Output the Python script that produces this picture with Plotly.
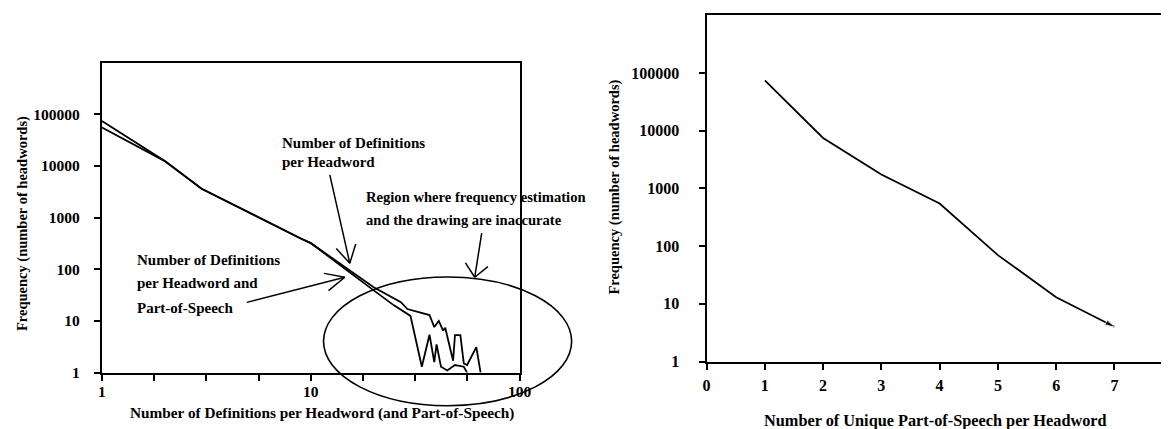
import math
import plotly.graph_objects as go

# ---------------- data ----------------
# Left chart: number of definitions per headword (log-log)
defs_x_hw = [1, 2, 3, 4, 5, 6, 7, 8, 9, 10, 15, 20, 27, 29, 37, 39, 41, 43, 44, 48, 49, 52, 54, 56, 62, 65]
defs_freq_hw = [74000, 12400, 3600, 2000, 1300, 900, 650, 500, 390, 320, 100, 45, 23, 17, 13, 7.6, 10, 6.5, 7.4, 1.7, 5.3, 5.3, 1.5, 1.4, 3.1, 1]

defs_x_hwpos = [1, 2, 3, 4, 5, 6, 7, 8, 9, 10, 15, 20, 25, 30, 34, 37, 39, 40, 42, 45, 49, 54, 56]
defs_freq_hwpos = [55500, 12400, 3600, 2000, 1300, 900, 650, 500, 390, 320, 92, 39, 20, 12.5, 1.3, 5.4, 1.6, 3.5, 1.3, 1.1, 1.4, 1.3, 1]

# Right chart: number of unique part-of-speech per headword
pos_x = [1, 2, 3, 4, 5, 6, 7]
pos_freq = [75000, 7500, 1750, 550, 70, 13, 4]

# tick labels
left_x_tickvals = [1, 1.778, 3.162, 5.623, 10, 17.78, 31.62, 56.23, 100]
left_x_ticktext = ["1", "", "", "", "10", "", "", "", "100"]
y_tickvals = [1, 10, 100, 1000, 10000, 100000]
y_ticktext = ["1", "10", "100", "1000", "10000", "100000"]
right_x_tickvals = [0, 1, 2, 3, 4, 5, 6, 7, 8]
right_x_ticktext = ["0", "1", "2", "3", "4", "5", "6", "7", "8"]

# ---------------- figure ----------------
# mapping from target-picture pixels to figure pixels (page margin + capture scale)
CX, SX = 10.0, 0.987
CY, SY = 8.6, 0.976
W, H = 1175, 432
FONT = "Liberation Serif"


def fx(px):
    return ((px - CX) / SX) / W


def fy(py):
    return 1 - ((py - CY) / SY) / H


def P(px, py):
    return fx(px), fy(py)


fig = go.Figure()

line_style = dict(color="black", width=1.8)
fig.add_trace(go.Scatter(x=defs_x_hw, y=defs_freq_hw, mode="lines", line=line_style,
                         xaxis="x", yaxis="y", showlegend=False))
fig.add_trace(go.Scatter(x=defs_x_hwpos, y=defs_freq_hwpos, mode="lines", line=line_style,
                         xaxis="x", yaxis="y", showlegend=False))
fig.add_trace(go.Scatter(x=pos_x, y=pos_freq, mode="lines+markers", line=line_style,
                         marker=dict(symbol="arrow", angleref="previous", color="black",
                                     size=[0] * (len(pos_x) - 1) + [10]),
                         xaxis="x2", yaxis="y2", showlegend=False))


def tf(size):
    return dict(family=FONT, size=size, color="black", weight="bold")


axis_common = dict(showline=True, linecolor="black", linewidth=2, ticks="outside",
                   ticklen=6, tickwidth=1.5, tickcolor="black", showgrid=False,
                   zeroline=False)

right_edge_px = CX + SX * W
right_x_end = (right_edge_px - 705) / 58.3

fig.update_layout(
    width=W, height=H,
    margin=dict(l=0, r=0, t=0, b=0),
    paper_bgcolor="white", plot_bgcolor="white",
    xaxis=dict(axis_common, type="log", range=[0, 2], domain=[fx(100), fx(518)],
               tickvals=left_x_tickvals, ticktext=left_x_ticktext, mirror=True,
               tickfont=tf(15.5), ticklabelstandoff=-2, anchor="y"),
    yaxis=dict(axis_common, type="log", range=[0, 6], domain=[fy(372), fy(63)],
               tickvals=y_tickvals, ticktext=y_ticktext, mirror=True,
               tickfont=tf(15.5), ticklabelstandoff=11, anchor="x"),
    xaxis2=dict(axis_common, range=[0, right_x_end], domain=[fx(705), 1.0],
                tickvals=right_x_tickvals, ticktext=right_x_ticktext, mirror=True,
                tickfont=tf(16), ticklabelstandoff=2, anchor="y2"),
    yaxis2=dict(axis_common, type="log", range=[0, 6], domain=[fy(361), fy(16)],
                tickvals=y_tickvals, ticktext=y_ticktext, mirror=False,
                tickfont=tf(16), ticklabelstandoff=16, anchor="x2"),
)

# ellipse marking inaccurate region
ex0, ey0 = P(321.7, 405)
ex1, ey1 = P(570, 276.7)
fig.add_shape(type="circle", xref="paper", yref="paper", x0=ex0, x1=ex1, y0=ey0, y1=ey1,
              line=dict(color="black", width=1.6), layer="above")


def seg(x0, y0, x1, y1, width=1.5):
    a, b = P(x0, y0)
    c, d = P(x1, y1)
    fig.add_shape(type="line", xref="paper", yref="paper", x0=a, y0=b, x1=c, y1=d,
                  line=dict(color="black", width=width), layer="above")


def arrow(hx, hy, tx, ty, half_angle, length):
    """Callout arrow: shaft from tail to head plus an open V head."""
    seg(tx, ty, hx, hy)
    ang = math.atan2(ty - hy, tx - hx)
    for s in (-1, 1):
        a = ang + s * math.radians(half_angle)
        seg(hx, hy, hx + length * math.cos(a), hy + length * math.sin(a))


def text(px, py, s, size=14.6, anchor="left", angle=0):
    x, y = P(px, py)
    fig.add_annotation(x=x, y=y, xref="paper", yref="paper", text=s, showarrow=False,
                       xanchor=anchor, yanchor="middle", font=tf(size), textangle=angle)


# callouts
text(278, 143, "Number of Definitions", size=15)
text(278, 162, "per Headword", size=15)
arrow(348, 263, 328, 175, 30, 20)

text(362, 197, "Region where frequency estimation")
text(362, 220, "and the drawing are inaccurate")
arrow(473, 277, 480, 233, 42, 17)

text(133, 260, "Number of Definitions", size=15)
text(133, 283, "per Headword and", size=15)
text(133, 308, "Part-of-Speech", size=15)
arrow(343, 277, 245, 302, 25, 21)

# axis titles
text(320, 412, "Number of Definitions per Headword (and Part-of-Speech)", size=15.3, anchor="center")
text(20, 223, "Frequency (number of headwords)", size=14.5, anchor="center", angle=-90)
text(934, 420, "Number of Unique Part-of-Speech per Headword", size=16.3, anchor="center")
text(613, 187, "Frequency (number of headwords)", size=14.5, anchor="center", angle=-90)

# tick label "8" of the right x axis, cut by the picture edge as in the original
text(1171, 385, "8", size=16, anchor="center")

fig.write_html("out.html")
